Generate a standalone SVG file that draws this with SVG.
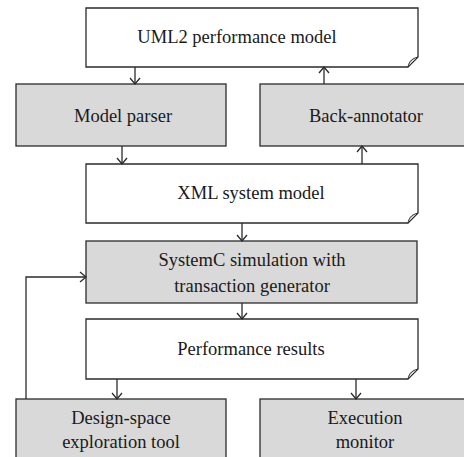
<svg xmlns="http://www.w3.org/2000/svg" width="464" height="457" viewBox="0 0 464 457">
<defs>
<style>
.doc{fill:#ffffff;stroke:#2b2b2b;stroke-width:1.3}
.proc{fill:#d9d9d9;stroke:#2b2b2b;stroke-width:1.3}
.fold{fill:#d0d0d0;stroke:#2b2b2b;stroke-width:1}
.t{font-size:18.5px;fill:#1a1a1a;text-anchor:middle}
.c{fill:none;stroke:#2b2b2b;stroke-width:1.3}
</style>
<marker id="ah" viewBox="0 0 12 12" refX="11" refY="6" markerWidth="12" markerHeight="12" markerUnits="userSpaceOnUse" orient="auto">
<path d="M5,1 L11,6 L5,11" fill="none" stroke="#2b2b2b" stroke-width="1.3"/>
</marker>
</defs>
<g font-family="Liberation Serif, DejaVu Serif, serif">
<g id="uml2">
<path class="doc" d="M86,8 H418 V57 L408,67 H86 Z"/>
<path class="fold" d="M418,57 L408,67 C409,63 410,59 418,57 Z"/>
<text class="t" x="237" y="43">UML2 performance model</text>
</g>
<g id="parser">
<rect class="proc" x="16" y="84" width="210" height="62"/>
<text class="t" x="123" y="122">Model parser</text>
</g>
<g id="backannot">
<rect class="proc" x="260" y="84" width="210" height="62"/>
<text class="t" x="366" y="122">Back-annotator</text>
</g>
<g id="xml">
<path class="doc" d="M86,164 H418 V213 L408,223 H86 Z"/>
<path class="fold" d="M418,213 L408,223 C409,219 410,215 418,213 Z"/>
<text class="t" x="251" y="199">XML system model</text>
</g>
<g id="systemc">
<rect class="proc" x="86" y="241" width="331" height="62"/>
<text class="t" x="252" y="266">SystemC simulation with</text>
<text class="t" x="252" y="292">transaction generator</text>
</g>
<g id="results">
<path class="doc" d="M86,319 H418 V369 L408,379 H86 Z"/>
<path class="fold" d="M418,369 L408,379 C409,375 410,371 418,369 Z"/>
<text class="t" x="251" y="355">Performance results</text>
</g>
<g id="dse">
<rect class="proc" x="16" y="399" width="210" height="70"/>
<text class="t" x="121" y="424">Design-space</text>
<text class="t" x="121" y="448">exploration tool</text>
</g>
<g id="monitor">
<rect class="proc" x="260" y="399" width="210" height="70"/>
<text class="t" x="365" y="424">Execution</text>
<text class="t" x="365" y="448">monitor</text>
</g>
</g>
<g id="connectors">
<path class="c" d="M135,67 V84" marker-end="url(#ah)"/>
<path class="c" d="M324,84 V67" marker-end="url(#ah)"/>
<path class="c" d="M122,146 V164" marker-end="url(#ah)"/>
<path class="c" d="M362,164 V146" marker-end="url(#ah)"/>
<path class="c" d="M242,223 V241" marker-end="url(#ah)"/>
<path class="c" d="M242,303 V319" marker-end="url(#ah)"/>
<path class="c" d="M117,379 V399" marker-end="url(#ah)"/>
<path class="c" d="M356,379 V399" marker-end="url(#ah)"/>
<path class="c" d="M26,399 V277 H86" marker-end="url(#ah)"/>
</g>
</svg>
